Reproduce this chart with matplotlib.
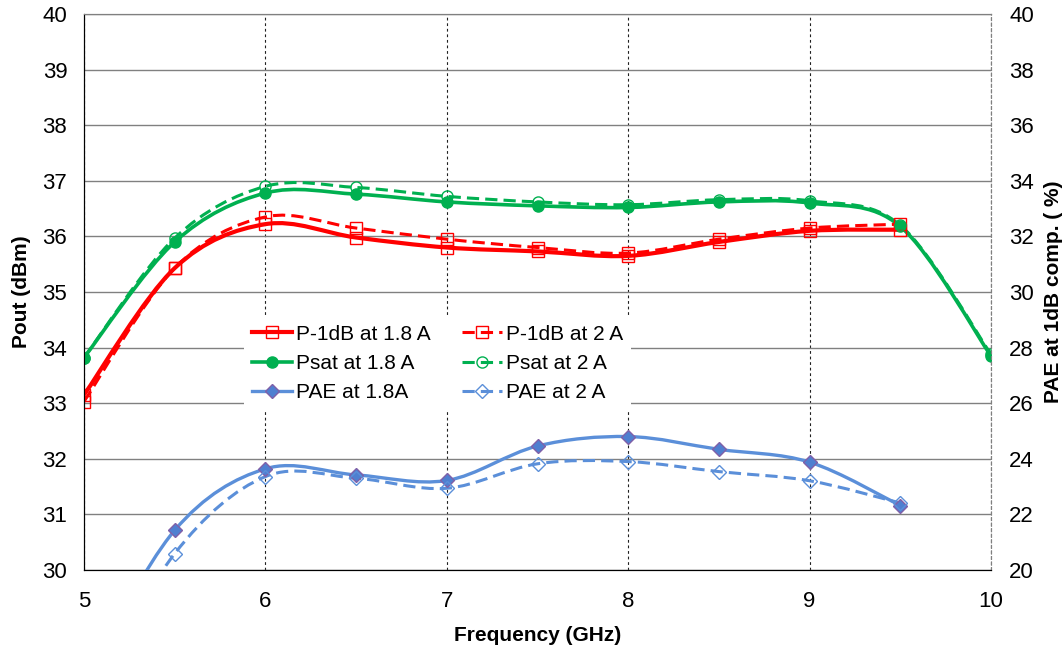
import matplotlib
matplotlib.use('Agg')
import matplotlib.pyplot as plt
from matplotlib.path import Path
from matplotlib.patches import PathPatch
from matplotlib.lines import Line2D
import numpy as np

plt.rcParams['font.family'] = ['Liberation Sans', 'DejaVu Sans']

freq = [5, 5.5, 6, 6.5, 7, 7.5, 8, 8.5, 9, 9.5, 10]
freq_p1db = freq[:-1]
freq_pae = freq[:-1]

p1db_18 = [33.15, 35.43, 36.22, 35.98, 35.80, 35.73, 35.65, 35.90, 36.10, 36.12]
p1db_20 = [33.03, 35.43, 36.35, 36.15, 35.95, 35.80, 35.70, 35.95, 36.15, 36.22]
psat_18 = [33.82, 35.90, 36.78, 36.76, 36.62, 36.55, 36.52, 36.62, 36.60, 36.18, 33.85]
psat_20 = [33.82, 35.97, 36.90, 36.88, 36.72, 36.62, 36.57, 36.66, 36.64, 36.20, 33.88]
pae_18 = [16.0, 21.43, 23.64, 23.42, 23.22, 24.46, 24.80, 24.34, 23.88, 22.32]
pae_20 = [15.0, 20.59, 23.36, 23.30, 22.94, 23.82, 23.90, 23.54, 23.21, 22.41]


def smooth_path(x, y):
    # Excel style smoothed line: cubic bezier segments through the points
    pts = np.column_stack([x, y]).astype(float)
    n = len(pts)
    verts = [pts[0]]
    codes = [Path.MOVETO]
    for i in range(n - 1):
        p0 = pts[i - 1] if i > 0 else pts[i]
        p1 = pts[i]
        p2 = pts[i + 1]
        p3 = pts[i + 2] if i + 2 < n else pts[i + 1]
        verts += [p1 + (p2 - p0) / 6, p2 - (p3 - p1) / 6, p2]
        codes += [Path.CURVE4] * 3
    return Path(verts, codes)


fig = plt.figure(figsize=(10.64, 6.45), dpi=100)
ax = fig.add_axes([84 / 1064, 1 - 570 / 645, 907 / 1064, 556 / 645])
ax2 = ax.twinx()

red = '#FF0000'
green = '#00B050'
blue = '#5B8FD9'
dash = (0, (4.0, 2.0))

series = [
    (ax, freq_p1db, p1db_18, red, '-', 3.0, dict(marker='s', mfc='none', mec=red, ms=8, mew=1.0), 'P-1dB at 1.8 A'),
    (ax, freq, psat_18, green, '-', 2.6, dict(marker='o', mfc=green, mec=green, ms=8, mew=1.0), 'Psat at 1.8 A'),
    (ax2, freq_pae, pae_18, blue, '-', 2.4, dict(marker='D', mfc='#4F7FD0', mec='#8060A8', ms=7, mew=1.0), 'PAE at 1.8A'),
    (ax, freq_p1db, p1db_20, red, '--', 2.2, dict(marker='s', mfc='none', mec=red, ms=8, mew=1.0), 'P-1dB at 2 A'),
    (ax, freq, psat_20, green, '--', 2.2, dict(marker='o', mfc='none', mec=green, ms=8, mew=1.0), 'Psat at 2 A'),
    (ax2, freq_pae, pae_20, blue, '--', 2.2, dict(marker='D', mfc='none', mec=blue, ms=7, mew=1.0), 'PAE at 2 A'),
]

handles = []
for a, x, y, col, ls, lw, mk, lab in series:
    style = dash if ls == '--' else '-'
    patch = PathPatch(smooth_path(x, y), facecolor='none', edgecolor=col, lw=lw,
                      linestyle=style, transform=a.transData, zorder=3)
    a.add_patch(patch)
    a.plot(x, y, ls='none', zorder=4, **mk)
    handles.append(Line2D([], [], color=col, lw=lw, linestyle=style, **mk))

ax.set_xlim(5, 10)
ax.set_ylim(30, 40)
ax2.set_ylim(20, 40)
ax.set_xticks(range(5, 11))
ax.set_yticks(range(30, 41))
ax2.set_yticks(range(20, 41, 2))

ax.yaxis.grid(True, color='#808080', lw=1.0, ls='-')
ax.xaxis.grid(True, color='#202020', lw=0.8, ls=(0, (2.5, 2.5)))
ax.set_axisbelow(True)

for a in (ax, ax2):
    a.tick_params(length=0, labelsize=16)
    a.spines['top'].set_color('#808080')
    a.spines['right'].set_color('#808080')
    a.spines['right'].set_linestyle((0, (2.5, 2.5)))
    a.spines['left'].set_color('black')
    a.spines['bottom'].set_color('black')
ax.tick_params(axis='y', pad=12)
ax.tick_params(axis='x', pad=15)
ax2.tick_params(axis='y', pad=13)

ax.set_xlabel('Frequency (GHz)', fontsize=15, fontweight='bold', labelpad=10)
ax.set_ylabel('Pout (dBm)', fontsize=15, fontweight='bold', labelpad=8)
ax2.set_ylabel('PAE at 1dB comp. ( %)', fontsize=15, fontweight='bold', labelpad=7)

leg = ax2.legend(handles, [s[-1] for s in series], ncol=2, loc='upper left',
                 bbox_to_anchor=(0.165, 0.475), fontsize=15, frameon=True,
                 facecolor='white', edgecolor='none', framealpha=1, fancybox=False,
                 handlelength=1.9, handletextpad=0.2, columnspacing=1.5,
                 labelspacing=0.5, borderpad=0.4)
leg.set_zorder(10)

fig.savefig('out.png', dpi=100)
